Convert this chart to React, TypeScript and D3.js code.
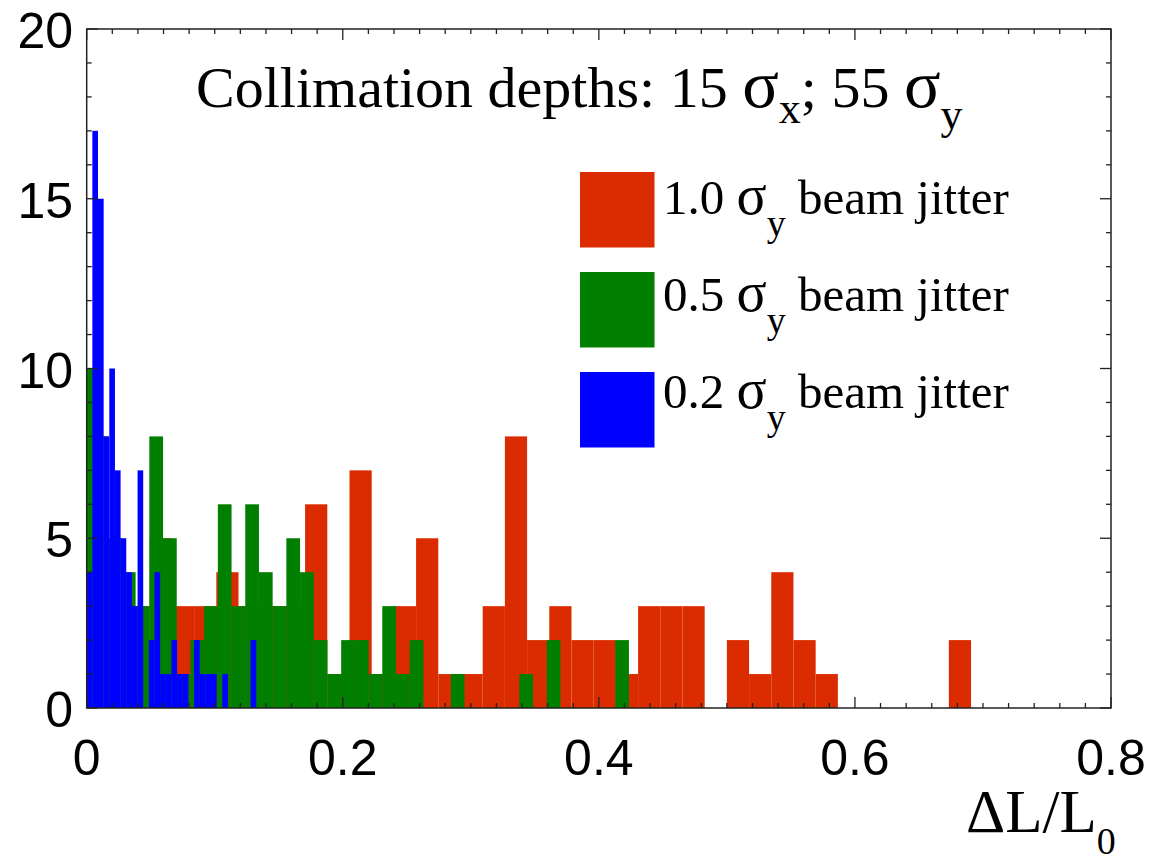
import React from "react";
import * as d3 from "d3";

// Histogram contents (counts per bin)
const redCounts = [3, 3, 3, 5, 3, 3, 4, 3, 3, 3, 6, 1, 7, 1, 3, 5, 1, 1, 3, 8, 2, 3, 2, 2, 1, 3, 3, 3, 0, 2, 1, 4, 2, 1, 0, 0, 0, 0, 0, 2];
const greenCounts = [10, 8, 5, 4, 3, 8, 5, 1, 2, 3, 6, 3, 6, 4, 3, 5, 4, 2, 1, 2, 2, 1, 3, 1, 2, 0, 0, 1, 0, 0, 0, 0, 1, 0, 2, 0, 0, 0, 0, 2];
const blueCounts = [4, 17, 15, 8, 10, 7, 5, 4, 3, 7, 0, 2, 4, 1, 1, 2, 1, 1, 0, 2, 1, 1, 1, 0, 1, 0, 0, 0, 0, 2];

// Bin ranges (ΔL/L0 units)
const redRange = [-0.0028, 0.6907];
const greenRange = [-0.0046, 0.4235];
const blueRange = [0, 0.1324];

const xTickLabels = ["0", "0.2", "0.4", "0.6", "0.8"];
const yTickLabels = ["0", "5", "10", "15", "20"];

const legendItems = [
  { jitter: "1.0", color: "#da2c00" },
  { jitter: "0.5", color: "#007f00" },
  { jitter: "0.2", color: "#0000ff" },
];

const W = 1157;
const H = 863;
const L = 86.7, R = 1111, T = 29, B = 708;

const sans = "'Liberation Sans', Arial, Helvetica, sans-serif";
const serif = "'Liberation Serif', 'Times New Roman', Times, serif";

export default function App() {
  const x = d3.scaleLinear().domain([0, 0.8]).range([L, R]);
  const y = d3.scaleLinear().domain([0, 20]).range([B, T]);

  const hist = (counts: number[], range: number[], color: string, key: string) => {
    const w = (range[1] - range[0]) / counts.length;
    return counts.map((c, i) => {
      if (c <= 0) return null;
      const x0 = x(range[0] + i * w);
      const x1 = x(range[0] + (i + 1) * w);
      return (
        <rect key={key + i} x={x0} y={y(c)} width={x1 - x0} height={y(0) - y(c)} fill={color} />
      );
    });
  };

  const xMinor = d3.range(0, 0.8001, 0.02);
  const yMinor = d3.range(0, 20.001, 1);

  return (
    <svg width={W} height={H} style={{ position: "absolute", left: 0, top: 0, background: "#fff" }}>
      <defs>
        <clipPath id="plot">
          <rect x={L} y={T} width={R - L} height={B - T} />
        </clipPath>
      </defs>
      <rect x={0} y={0} width={W} height={H} fill="#fff" />
      <g clipPath="url(#plot)">
        {hist(redCounts, redRange, legendItems[0].color, "r")}
        {hist(greenCounts, greenRange, legendItems[1].color, "g")}
        {hist(blueCounts, blueRange, legendItems[2].color, "b")}
      </g>
      {/* ticks */}
      <g stroke="#222" strokeWidth={1.3}>
        {xMinor.map((v, i) => {
          const major = i % 10 === 0;
          const len = major ? 11 : 5;
          return (
            <g key={"xt" + i}>
              <line x1={x(v)} x2={x(v)} y1={B} y2={B - len} />
              <line x1={x(v)} x2={x(v)} y1={T} y2={T + len} />
            </g>
          );
        })}
        {yMinor.map((v, i) => {
          const major = i % 5 === 0;
          const len = major ? 11 : 5;
          return (
            <g key={"yt" + i}>
              <line x1={L} x2={L + len} y1={y(v)} y2={y(v)} />
              <line x1={R} x2={R - len} y1={y(v)} y2={y(v)} />
            </g>
          );
        })}
      </g>
      <rect x={L} y={T} width={R - L} height={B - T} fill="none" stroke="#222" strokeWidth={1.5} />
      {/* tick labels */}
      {xTickLabels.map((t) => (
        <text key={"xl" + t} x={x(+t)} y={775} textAnchor="middle" fontFamily={sans} fontSize={50} fill="#000">
          {t}
        </text>
      ))}
      {yTickLabels.map((t) => (
        <text key={"yl" + t} x={73} y={y(+t) + 19} textAnchor="end" fontFamily={sans} fontSize={50} fill="#000">
          {t}
        </text>
      ))}
      {/* axis title */}
      <text x={966} y={832} fontFamily={serif} fontSize={61} fill="#000">
        ΔL/L
        <tspan fontSize={38} dy={22}>0</tspan>
      </text>
      {/* header */}
      <text x={196} y={107} fontFamily={serif} fontSize={58} fill="#000">
        Collimation depths: 15 <tspan fontSize={68}>σ</tspan>
        <tspan fontSize={44} dy={16}>x</tspan>
        <tspan dy={-16}>; 55 </tspan>
        <tspan fontSize={68}>σ</tspan>
        <tspan fontSize={44} dy={22}>y</tspan>
      </text>
      {/* legend */}
      {legendItems.map((it, i) => (
        <g key={"lg" + i}>
          <rect x={580} y={172 + i * 100} width={74.5} height={75.5} fill={it.color} />
          <text x={663} y={214 + i * 97} fontFamily={serif} fontSize={49} fill="#000">
            {it.jitter} <tspan fontSize={56}>σ</tspan>
            <tspan fontSize={38} dy={22}>y</tspan>
            <tspan dy={-22}> beam jitter</tspan>
          </text>
        </g>
      ))}
    </svg>
  );
}
